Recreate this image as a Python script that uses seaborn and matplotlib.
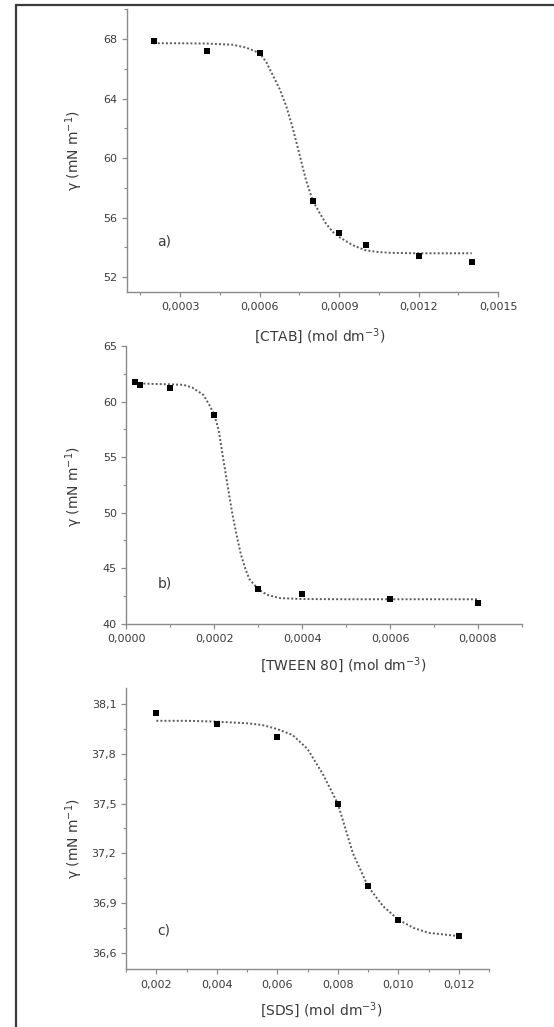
import numpy as np
import pandas as pd
import matplotlib
matplotlib.use("Agg")
import matplotlib.pyplot as plt
import seaborn as sns
from matplotlib.ticker import MultipleLocator, FuncFormatter
from matplotlib.lines import Line2D

# ---------------- data ----------------
a_x = [0.0002, 0.0004, 0.0006, 0.0008, 0.0009, 0.0010, 0.0012, 0.0014]
a_y = [67.84, 67.20, 67.05, 57.10, 54.95, 54.18, 53.40, 53.00]
a_fit_x = [0.0002, 0.0003, 0.0004, 0.0005, 0.00055, 0.0006, 0.000625, 0.00065,
           0.000675, 0.0007, 0.000725, 0.00075, 0.000775, 0.0008, 0.000825,
           0.00085, 0.000875, 0.0009, 0.00095, 0.0010, 0.00105, 0.0011,
           0.0012, 0.0013, 0.0014]
a_fit_y = [67.72, 67.72, 67.70, 67.62, 67.42, 67.05, 66.45, 65.55,
           64.65, 63.50, 62.00, 60.25, 58.50, 57.15, 56.35,
           55.60, 55.05, 54.70, 54.15, 53.80, 53.68, 53.63,
           53.60, 53.60, 53.60]

b_x = [0.00002, 0.00003, 0.0001, 0.0002, 0.0003, 0.0004, 0.0006, 0.0008]
b_y = [61.77, 61.53, 61.26, 58.80, 43.10, 42.67, 42.20, 41.90]
b_fit_x = [0.00002, 0.00005, 0.0001, 0.00013, 0.00015, 0.000175, 0.00019,
           0.0002, 0.00021, 0.00022, 0.00023, 0.00024, 0.00025, 0.00026,
           0.00027, 0.00028, 0.0003, 0.00032, 0.00035, 0.0004, 0.0005,
           0.0006, 0.0007, 0.0008]
b_fit_y = [61.65, 61.60, 61.55, 61.50, 61.25, 60.60, 59.60,
           58.80, 57.40, 54.90, 52.50, 50.10, 48.10, 46.30,
           45.00, 44.00, 43.10, 42.60, 42.30, 42.22, 42.20,
           42.20, 42.20, 42.20]

c_x = [0.002, 0.004, 0.006, 0.008, 0.009, 0.010, 0.012]
c_y = [38.05, 37.98, 37.90, 37.50, 37.00, 36.80, 36.70]
c_fit_x = [0.002, 0.003, 0.004, 0.005, 0.0055, 0.006, 0.0065, 0.007, 0.0075,
           0.008, 0.0085, 0.009, 0.0095, 0.010, 0.0105, 0.011, 0.0115, 0.012]
c_fit_y = [38.00, 38.00, 37.995, 37.985, 37.975, 37.95, 37.915, 37.83, 37.68,
           37.50, 37.20, 37.00, 36.88, 36.80, 36.75, 36.72, 36.71, 36.70]

x_labels = ["[CTAB] (mol dm$^{-3}$)", "[TWEEN 80] (mol dm$^{-3}$)", "[SDS] (mol dm$^{-3}$)"]
y_label = "γ (mN m$^{-1}$)"
panel_tags = ["a)", "b)", "c)"]

# ---------------- style ----------------
sns.set_theme(style="ticks")
plt.rcParams["font.family"] = ["DejaVu Sans"]
plt.rcParams["mathtext.fontset"] = "dejavusans"

SPINE = "#8a8a8a"
TXT = "#3a3a3a"

fig = plt.figure(figsize=(5.54, 10.27), dpi=100)
fig.patch.set_facecolor("white")

panels = [
    dict(rect=[0.2296, 0.7157, 0.6697, 0.2752], x=a_x, y=a_y, fx=a_fit_x, fy=a_fit_y,
         xlim=(0.0001, 0.0015), ylim=(51, 70), xmaj=0.0003, xmin=0.00015,
         ymaj=4, ymin=2, xdec=4, ydec=0,
         xl=(0.519, -0.156), yl=(-0.143, 0.502), tag=(0.100, 0.178)),
    dict(rect=[0.2283, 0.3927, 0.7137, 0.2704], x=b_x, y=b_y, fx=b_fit_x, fy=b_fit_y,
         xlim=(0.0, 0.0009), ylim=(40, 65), xmaj=0.0002, xmin=0.0001,
         ymaj=5, ymin=2.5, xdec=4, ydec=0,
         xl=(0.548, -0.149), yl=(-0.133, 0.493), tag=(0.096, 0.145)),
    dict(rect=[0.2276, 0.0562, 0.6551, 0.2742], x=c_x, y=c_y, fx=c_fit_x, fy=c_fit_y,
         xlim=(0.001, 0.013), ylim=(36.5, 38.2), xmaj=0.002, xmin=0.001,
         ymaj=0.3, ymin=0.15, xdec=3, ydec=1,
         xl=(0.539, -0.145), yl=(-0.144, 0.465), tag=(0.103, 0.137)),
]


def comma_fmt(dec):
    return FuncFormatter(lambda v, pos: f"{v:.{dec}f}".replace(".", ",").replace("-", "−"))


for i, p in enumerate(panels):
    ax = fig.add_axes(p["rect"])
    ax.set_facecolor("white")
    df_fit = pd.DataFrame({"x": p["fx"], "y": p["fy"]})
    df_pts = pd.DataFrame({"x": p["x"], "y": p["y"]})
    sns.lineplot(data=df_fit, x="x", y="y", ax=ax, sort=False, estimator=None,
                 color="#5a5a5a", linewidth=1.4, linestyle=(0, (1, 1.1)), zorder=2)
    sns.scatterplot(data=df_pts, x="x", y="y", ax=ax, marker="s", s=24,
                    color="black", linewidth=0, zorder=3)
    ax.set_xlim(*p["xlim"])
    ax.set_ylim(*p["ylim"])
    ax.xaxis.set_major_locator(MultipleLocator(p["xmaj"]))
    ax.xaxis.set_minor_locator(MultipleLocator(p["xmin"]))
    ax.yaxis.set_major_locator(MultipleLocator(p["ymaj"]))
    ax.yaxis.set_minor_locator(MultipleLocator(p["ymin"]))
    ax.xaxis.set_major_formatter(comma_fmt(p["xdec"]))
    ax.yaxis.set_major_formatter(comma_fmt(p["ydec"]))

    for side in ["top", "right"]:
        ax.spines[side].set_visible(False)
    for side in ["left", "bottom"]:
        ax.spines[side].set_color(SPINE)
        ax.spines[side].set_linewidth(1.0)
    ax.tick_params(axis="both", which="major", direction="out", length=3.5, width=0.9,
                   color=SPINE, labelcolor=TXT, labelsize=8)
    ax.tick_params(axis="both", which="minor", direction="out", length=2.0, width=0.8,
                   color=SPINE)
    ax.tick_params(axis="x", which="major", pad=4)
    ax.tick_params(axis="y", which="major", pad=3.5)

    ax.set_xlabel(x_labels[i], fontsize=10, color=TXT)
    ax.set_ylabel(y_label, fontsize=10, color=TXT)
    ax.xaxis.label.set_va("center")
    ax.yaxis.label.set_va("center")
    ax.xaxis.set_label_coords(*p["xl"])
    ax.yaxis.set_label_coords(*p["yl"])
    ax.text(p["tag"][0], p["tag"][1], panel_tags[i], transform=ax.transAxes,
            ha="center", va="center", fontsize=10, color=TXT)

# outer frame (top and left edges, as in the cropped original)
W, H = 554.0, 1027.0
fig.add_artist(Line2D([15.7 / W, 1.0], [1 - 5.0 / H, 1 - 5.0 / H], transform=fig.transFigure,
                      color="#3a3a3a", linewidth=1.6))
fig.add_artist(Line2D([15.7 / W, 15.7 / W], [0.0, 1 - 5.0 / H], transform=fig.transFigure,
                      color="#3a3a3a", linewidth=1.6))

fig.savefig("out.png", dpi=100, facecolor="white")
